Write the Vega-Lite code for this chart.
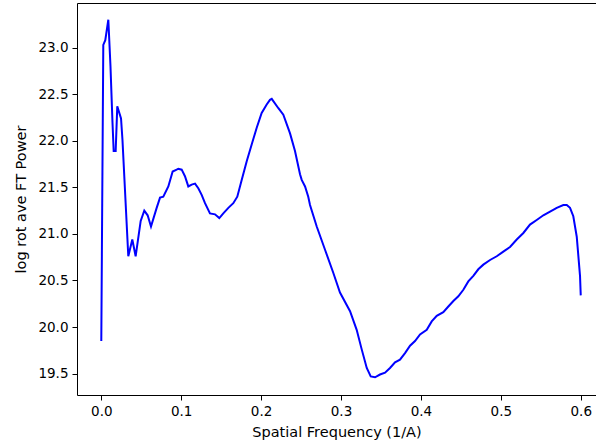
{
  "$schema": "https://vega.github.io/schema/vega-lite/v6.json",
  "width": 519,
  "height": 392,
  "autosize": {"type": "none"},
  "padding": {"left": 77, "top": 3, "right": 0, "bottom": 51},
  "background": "white",
  "config": {
    "view": {"stroke": null},
    "axis": {
      "grid": false,
      "domainColor": "#000000",
      "domainWidth": 1,
      "tickColor": "#000000",
      "tickWidth": 1,
      "tickSize": 5,
      "labelFont": "DejaVu Sans",
      "labelFontSize": 13.5,
      "labelColor": "#000000",
      "labelPadding": 4,
      "titleFont": "DejaVu Sans",
      "titleFontSize": 14.5,
      "titleFontWeight": "normal",
      "titleColor": "#000000"
    }
  },
  "data": {
    "values": [
      {"x": 0, "y": 19.85},
      {"x": 0.0025, "y": 23.03},
      {"x": 0.005, "y": 23.08},
      {"x": 0.0088, "y": 23.3},
      {"x": 0.0115, "y": 22.8},
      {"x": 0.014, "y": 22.2},
      {"x": 0.0155, "y": 21.89},
      {"x": 0.018, "y": 21.89},
      {"x": 0.02, "y": 22.37},
      {"x": 0.0247, "y": 22.24},
      {"x": 0.0265, "y": 22.01},
      {"x": 0.0338, "y": 20.76},
      {"x": 0.0388, "y": 20.94},
      {"x": 0.043, "y": 20.76},
      {"x": 0.0493, "y": 21.14},
      {"x": 0.0538, "y": 21.25},
      {"x": 0.058, "y": 21.2},
      {"x": 0.0622, "y": 21.08},
      {"x": 0.0693, "y": 21.28},
      {"x": 0.0735, "y": 21.39},
      {"x": 0.0776, "y": 21.4},
      {"x": 0.0839, "y": 21.51},
      {"x": 0.0893, "y": 21.67},
      {"x": 0.0943, "y": 21.69},
      {"x": 0.0964, "y": 21.7},
      {"x": 0.1006, "y": 21.69},
      {"x": 0.1047, "y": 21.62},
      {"x": 0.1089, "y": 21.51},
      {"x": 0.1131, "y": 21.53},
      {"x": 0.1173, "y": 21.54},
      {"x": 0.1214, "y": 21.49},
      {"x": 0.1256, "y": 21.42},
      {"x": 0.1298, "y": 21.33},
      {"x": 0.136, "y": 21.22},
      {"x": 0.1423, "y": 21.21},
      {"x": 0.1477, "y": 21.17},
      {"x": 0.1527, "y": 21.22},
      {"x": 0.159, "y": 21.28},
      {"x": 0.1652, "y": 21.33},
      {"x": 0.1702, "y": 21.4},
      {"x": 0.1757, "y": 21.58},
      {"x": 0.182, "y": 21.78},
      {"x": 0.1882, "y": 21.96},
      {"x": 0.1945, "y": 22.14},
      {"x": 0.2007, "y": 22.3},
      {"x": 0.207, "y": 22.39},
      {"x": 0.2111, "y": 22.44},
      {"x": 0.2133, "y": 22.45},
      {"x": 0.2216, "y": 22.35},
      {"x": 0.2278, "y": 22.28},
      {"x": 0.2362, "y": 22.08},
      {"x": 0.2424, "y": 21.89},
      {"x": 0.2487, "y": 21.64},
      {"x": 0.2508, "y": 21.58},
      {"x": 0.255, "y": 21.51},
      {"x": 0.259, "y": 21.4},
      {"x": 0.2612, "y": 21.31},
      {"x": 0.2696, "y": 21.08},
      {"x": 0.28, "y": 20.83},
      {"x": 0.2904, "y": 20.58},
      {"x": 0.2987, "y": 20.37},
      {"x": 0.3113, "y": 20.17},
      {"x": 0.3196, "y": 19.97},
      {"x": 0.3259, "y": 19.76},
      {"x": 0.3322, "y": 19.56},
      {"x": 0.3372, "y": 19.47},
      {"x": 0.3426, "y": 19.46},
      {"x": 0.3488, "y": 19.49},
      {"x": 0.3551, "y": 19.51},
      {"x": 0.3613, "y": 19.56},
      {"x": 0.3676, "y": 19.62},
      {"x": 0.3738, "y": 19.65},
      {"x": 0.3801, "y": 19.72},
      {"x": 0.3864, "y": 19.8},
      {"x": 0.3926, "y": 19.85},
      {"x": 0.3989, "y": 19.92},
      {"x": 0.4073, "y": 19.97},
      {"x": 0.4135, "y": 20.06},
      {"x": 0.4198, "y": 20.12},
      {"x": 0.428, "y": 20.16},
      {"x": 0.4343, "y": 20.22},
      {"x": 0.4406, "y": 20.28},
      {"x": 0.4468, "y": 20.33},
      {"x": 0.4531, "y": 20.4},
      {"x": 0.4593, "y": 20.49},
      {"x": 0.4656, "y": 20.55},
      {"x": 0.4718, "y": 20.62},
      {"x": 0.4781, "y": 20.67},
      {"x": 0.4865, "y": 20.72},
      {"x": 0.4949, "y": 20.76},
      {"x": 0.5031, "y": 20.81},
      {"x": 0.5115, "y": 20.86},
      {"x": 0.5199, "y": 20.94},
      {"x": 0.5282, "y": 21.01},
      {"x": 0.5365, "y": 21.1},
      {"x": 0.5449, "y": 21.15},
      {"x": 0.5532, "y": 21.2},
      {"x": 0.5616, "y": 21.24},
      {"x": 0.57, "y": 21.28},
      {"x": 0.5782, "y": 21.31},
      {"x": 0.5825, "y": 21.31},
      {"x": 0.5866, "y": 21.28},
      {"x": 0.5907, "y": 21.19},
      {"x": 0.595, "y": 20.97},
      {"x": 0.5991, "y": 20.55},
      {"x": 0.6, "y": 20.34}
    ]
  },
  "layer": [
    {
      "mark": {"type": "line", "color": "#0000ff", "strokeWidth": 2},
      "encoding": {
        "x": {
          "field": "x",
          "type": "quantitative",
          "sort": null,
          "scale": {"domain": [-0.0304, 0.6191], "nice": false, "zero": false},
          "axis": {
            "values": [0, 0.1, 0.2, 0.3, 0.4, 0.5, 0.6],
            "format": ".1f",
            "title": "Spatial Frequency (1/A)",
            "titlePadding": 8
          }
        },
        "y": {
          "field": "y",
          "type": "quantitative",
          "scale": {"domain": [19.27, 23.48], "nice": false, "zero": false},
          "axis": {
            "values": [19.5, 20, 20.5, 21, 21.5, 22, 22.5, 23],
            "format": ".1f",
            "title": "log rot ave FT Power",
            "titlePadding": 9.5
          }
        },
        "order": {"field": "x", "type": "quantitative"}
      }
    },
    {
      "mark": {"type": "line", "opacity": 0},
      "encoding": {
        "x": {
          "field": "x",
          "type": "quantitative",
          "scale": {"domain": [-0.0304, 0.6191], "nice": false, "zero": false},
          "axis": {"orient": "top", "labels": false, "ticks": false, "title": null, "domain": true}
        },
        "y": {
          "field": "y",
          "type": "quantitative",
          "scale": {"domain": [19.27, 23.48], "nice": false, "zero": false},
          "axis": null
        }
      }
    }
  ],
  "resolve": {"scale": {"x": "independent", "y": "independent"}, "axis": {"x": "independent", "y": "independent"}}
}
